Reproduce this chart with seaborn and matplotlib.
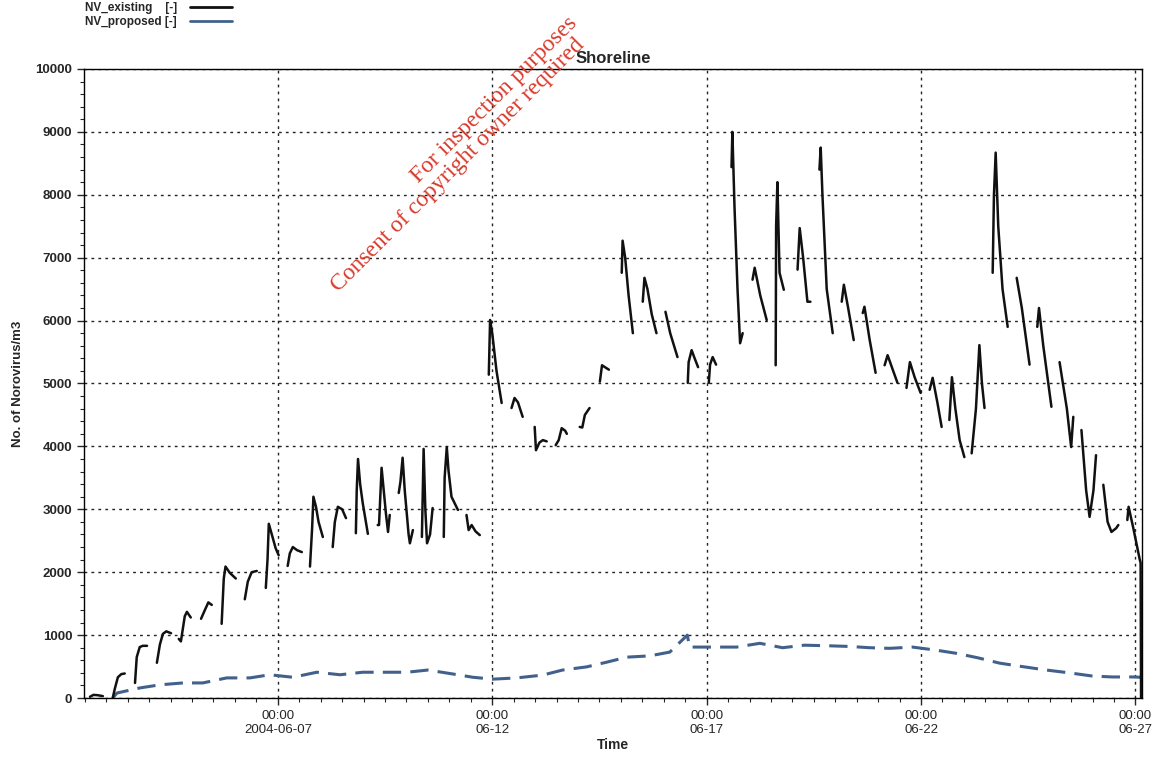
import numpy as np
import pandas as pd
import matplotlib
matplotlib.use("Agg")
import matplotlib.pyplot as plt
import matplotlib.dates as mdates
from matplotlib.lines import Line2D
import seaborn as sns

# NV_existing: one list of (day, value) pairs per tidal segment, day counted from 2004-06-02 00:00
existing_segments = [
    [(0.62, 20), (0.70, 50), (0.80, 45), (0.92, 30)],
    [(1.15, 0), (1.20, 150), (1.27, 330), (1.35, 380), (1.43, 390)],
    [(1.67, 240), (1.71, 650), (1.78, 810), (1.85, 830), (1.95, 830)],
    [(2.18, 560), (2.25, 850), (2.32, 1020), (2.40, 1060), (2.51, 1030)],
    [(2.69, 940), (2.74, 900), (2.83, 1300), (2.88, 1370), (2.97, 1280)],
    [(3.21, 1260), (3.30, 1400), (3.38, 1520), (3.46, 1480)],
    [(3.69, 1180), (3.74, 1900), (3.78, 2090), (3.88, 1990), (4.02, 1900)],
    [(4.23, 1570), (4.30, 1850), (4.39, 2000), (4.51, 2020)],
    [(4.72, 1750), (4.76, 2200), (4.79, 2770), (4.86, 2600), (4.95, 2380), (5.02, 2270)],
    [(5.23, 2100), (5.28, 2300), (5.35, 2400), (5.45, 2350), (5.56, 2320)],
    [(5.75, 2090), (5.80, 2700), (5.83, 3200), (5.89, 3040), (5.95, 2800), (6.05, 2560)],
    [(6.28, 2400), (6.33, 2800), (6.40, 3040), (6.50, 3000), (6.59, 2860)],
    [(6.82, 2620), (6.84, 3300), (6.87, 3800), (6.92, 3400), (6.98, 3100), (7.10, 2610)],
    [(7.33, 2750), (7.36, 2750), (7.42, 3660), (7.47, 3300), (7.52, 2940), (7.57, 2640), (7.61, 2910)],
    [(7.82, 3260), (7.86, 3440), (7.91, 3820), (7.96, 3300), (8.05, 2600), (8.08, 2460), (8.15, 2670)],
    [(8.36, 2560), (8.40, 3960), (8.44, 3000), (8.48, 2460), (8.55, 2600), (8.61, 3020)],
    [(8.87, 2560), (8.89, 3500), (8.94, 3990), (8.98, 3620), (9.05, 3200), (9.20, 2990)],
    [(9.40, 2910), (9.45, 2670), (9.52, 2750), (9.61, 2650), (9.71, 2590)],
    [(9.92, 5140), (9.95, 6010), (10.00, 5800), (10.10, 5200), (10.22, 4690)],
    [(10.45, 4610), (10.52, 4770), (10.60, 4700), (10.71, 4470)],
    [(10.99, 4310), (11.02, 3940), (11.10, 4060), (11.18, 4100), (11.27, 4080)],
    [(11.48, 4020), (11.55, 4100), (11.62, 4290), (11.70, 4250), (11.74, 4200)],
    [(12.04, 4310), (12.10, 4300), (12.16, 4500), (12.27, 4610)],
    [(12.51, 5030), (12.56, 5290), (12.65, 5250), (12.72, 5220)],
    [(13.02, 6760), (13.04, 7270), (13.10, 7000), (13.18, 6400), (13.28, 5800)],
    [(13.51, 6300), (13.55, 6680), (13.62, 6500), (13.72, 6100), (13.83, 5800)],
    [(14.04, 6140), (14.15, 5800), (14.32, 5420)],
    [(14.56, 5010), (14.58, 5340), (14.65, 5530), (14.72, 5400), (14.80, 5260)],
    [(15.05, 5010), (15.08, 5300), (15.14, 5420), (15.22, 5300)],
    [(15.58, 8440), (15.60, 9000), (15.65, 7800), (15.72, 6500), (15.78, 5640), (15.84, 5800)],
    [(16.07, 6650), (16.12, 6840), (16.25, 6400), (16.40, 6010)],
    [(16.61, 5290), (16.62, 7500), (16.65, 8200), (16.70, 6760), (16.80, 6490)],
    [(17.12, 6810), (17.17, 7470), (17.25, 7000), (17.35, 6300), (17.42, 6300)],
    [(17.63, 8400), (17.66, 8750), (17.70, 8000), (17.80, 6500), (17.94, 5800)],
    [(18.15, 6300), (18.20, 6570), (18.30, 6200), (18.43, 5690)],
    [(18.64, 6120), (18.68, 6220), (18.80, 5700), (18.94, 5170)],
    [(19.15, 5290), (19.22, 5450), (19.35, 5200), (19.45, 5010)],
    [(19.66, 4930), (19.74, 5340), (19.85, 5100), (19.99, 4850)],
    [(20.20, 4900), (20.27, 5090), (20.38, 4700), (20.48, 4310)],
    [(20.66, 4420), (20.72, 5100), (20.80, 4600), (20.90, 4100), (21.01, 3830)],
    [(21.18, 3890), (21.28, 4600), (21.36, 5610), (21.42, 5000), (21.48, 4610)],
    [(21.67, 6760), (21.70, 8000), (21.74, 8670), (21.80, 7500), (21.90, 6500), (22.02, 5900)],
    [(22.23, 6680), (22.35, 6200), (22.53, 5300)],
    [(22.71, 5900), (22.75, 6200), (22.85, 5600), (23.04, 4630)],
    [(23.23, 5340), (23.40, 4600), (23.50, 3990), (23.55, 4470)],
    [(23.74, 4260), (23.85, 3300), (23.93, 2880), (24.02, 3300), (24.08, 3860)],
    [(24.25, 3390), (24.35, 2800), (24.44, 2640), (24.55, 2700), (24.60, 2750)],
    [(24.81, 2830), (24.84, 3040), (24.95, 2700), (25.10, 2200), (25.12, 2150), (25.13, 0)],
]

# NV_proposed
proposed_days = [1.15, 1.25, 1.78, 2.25, 2.79, 3.25, 3.81, 4.35, 4.81, 5.35, 5.91, 6.45, 6.98,
                 7.49, 8.01, 8.50, 9.01, 9.55, 10.01, 10.57, 11.18, 11.64, 12.20, 12.67, 13.14,
                 13.67, 14.14, 14.55, 14.60, 15.14, 15.70, 16.24, 16.77, 17.28, 17.87, 18.33,
                 18.80, 19.27, 19.80, 20.36, 20.83, 21.32, 21.83, 22.36, 22.92, 23.46, 23.99,
                 24.46, 24.93, 25.13]
proposed_vals = [0, 80, 160, 210, 240, 240, 320, 320, 370, 330, 410, 370, 410,
                 410, 410, 445, 390, 330, 300, 320, 365, 445, 495, 570, 650,
                 670, 730, 1000, 810, 810, 810, 870, 800, 840, 830, 820,
                 800, 790, 810, 760, 710, 640, 555, 500, 445, 400, 350,
                 335, 335, 330]

major_labels = ["00:00\n2004-06-07", "00:00\n06-12", "00:00\n06-17", "00:00\n06-22", "00:00\n06-27"]

start = pd.Timestamp("2004-06-02")

rows = []
for i, seg in enumerate(existing_segments):
    for d, v in seg:
        rows.append({"seg": i, "time": start + pd.to_timedelta(d, unit="D"), "nv": v})
df_existing = pd.DataFrame(rows)
df_proposed = pd.DataFrame({
    "time": start + pd.to_timedelta(proposed_days, unit="D"),
    "nv": proposed_vals,
})

sns.set_style("ticks")
plt.rcParams["font.family"] = ["Liberation Sans", "DejaVu Sans"]

fig = plt.figure(figsize=(11.6, 7.57), dpi=100)
ax = fig.add_axes([0.0724, 0.0779, 0.912, 0.831])

black = "#111111"
blue = "#41618c"

sns.lineplot(data=df_proposed, x="time", y="nv", ax=ax, color=blue, linewidth=2.2,
             linestyle=(0, (6, 3)), legend=False)
sns.lineplot(data=df_existing, x="time", y="nv", units="seg", estimator=None, ax=ax,
             color=black, linewidth=1.8, legend=False)

ax.set_xlim(start + pd.to_timedelta(0.48, unit="D"), start + pd.to_timedelta(25.15, unit="D"))
ax.set_ylim(0, 10000)
ax.set_yticks(np.arange(0, 10001, 1000))
ax.yaxis.set_minor_locator(plt.MultipleLocator(200))

ax.xaxis.set_major_locator(mdates.DayLocator(bymonthday=[7, 12, 17, 22, 27]))
ax.xaxis.set_minor_locator(mdates.HourLocator(byhour=[0, 12]))
ax.xaxis.set_major_formatter(plt.FixedFormatter(major_labels))

for lab in ax.get_yticklabels():
    lab.set_fontweight("bold")
ax.tick_params(axis="y", labelsize=9.5, length=5, width=1, direction="out")
ax.tick_params(axis="x", labelsize=9.5, length=5, width=1, direction="out")
ax.tick_params(which="minor", length=3, width=0.8)

ax.grid(True, which="major", color="#222222", linestyle=(0, (2, 3)), linewidth=1.0)
for s in ax.spines.values():
    s.set_visible(True)
    s.set_color("black")
    s.set_linewidth(1.0)

ax.set_xlabel("Time", fontsize=10, fontweight="bold", labelpad=2)
ax.set_ylabel("No. of Norovirus/m3", fontsize=9.5, fontweight="bold", labelpad=8)
ax.set_title("Shoreline", fontsize=12, fontweight="bold", pad=4)

handles = [Line2D([0], [0], color=black, linewidth=2),
           Line2D([0], [0], color=blue, linewidth=2)]
fig.legend(handles, ["NV_existing    [-]", "NV_proposed [-]"], loc="upper left",
           bbox_to_anchor=(0.066, 1.008), frameon=False, markerfirst=False,
           handlelength=3.6, handletextpad=1.1, labelspacing=0.15, borderaxespad=0.3,
           prop={"weight": "bold", "size": 8.5})

# copy watermark
wm = dict(color="#d93a2b", fontsize=17, rotation=45, rotation_mode="anchor",
          ha="left", va="baseline", family="Liberation Serif")
fig.text(418 / 1160, 1 - 183 / 757, "For inspection purposes", **wm)
fig.text(338 / 1160, 1 - 292 / 757, "Consent of copyright owner required", **wm)

fig.savefig("out.png", dpi=100)
